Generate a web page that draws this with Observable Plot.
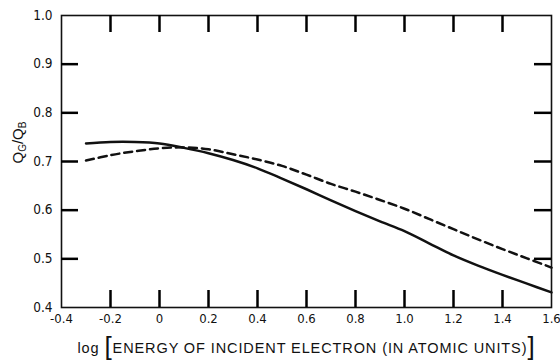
<!DOCTYPE html>
<html><head><meta charset="utf-8">
<script src="https://cdn.jsdelivr.net/npm/d3@7"></script>
<script src="https://cdn.jsdelivr.net/npm/@observablehq/plot@0.6"></script>
<style>body{margin:0;background:#fff;}</style>
</head><body><div id="chart"></div>
<script>
const energyLog   = [-0.3,-0.2,-0.1,0.0,0.1,0.2,0.3,0.4,0.5,0.6,0.7,0.8,0.9,1.0,1.1,1.2,1.3,1.4,1.5,1.6];
const ratioSolid  = [0.737,0.740,0.740,0.737,0.728,0.717,0.703,0.686,0.665,0.643,0.620,0.598,0.577,0.557,0.532,0.507,0.486,0.467,0.449,0.431];
const ratioDashed = [0.702,0.713,0.721,0.727,0.729,0.725,0.715,0.704,0.691,0.673,0.654,0.638,0.621,0.603,0.582,0.561,0.540,0.520,0.501,0.482];
const xTicks = [-0.4,-0.2,0,0.2,0.4,0.6,0.8,1.0,1.2,1.4,1.6];
const xTickLabels = ["-0.4","-0.2","0","0.2","0.4","0.6","0.8","1.0","1.2","1.4","1.6"];
const yTicks = [0.4,0.5,0.6,0.7,0.8,0.9,1.0];
const yTickLabels = ["0.4","0.5","0.6","0.7","0.8","0.9","1.0"];
const xTitle = "log [ENERGY OF INCIDENT ELECTRON (IN ATOMIC UNITS)]";
const yTitle = "QG/QB";

const W = 560, H = 364, mL = 61, mR = 9, mT = 15, mB = 57, TICK = 17;
const frameW = W - mL - mR, frameH = H - mT - mB;

const solid = energyLog.map((x, i) => ({x, y: ratioSolid[i]}));
const dashed = energyLog.map((x, i) => ({x, y: ratioDashed[i]}));
const innerX = xTicks.slice(1, -1);
const innerY = yTicks.slice(1, -1);
const tk = {stroke: "#000", strokeWidth: 2.5, strokeOpacity: 1};
const labelFont = "'Liberation Sans Narrow', 'DejaVu Sans Condensed', sans-serif";
const titleFont = "'Liberation Sans', Arial, sans-serif";

const chart = Plot.plot({
  width: W, height: H,
  marginLeft: mL, marginRight: mR, marginTop: mT, marginBottom: mB,
  style: {fontFamily: labelFont, fontSize: "13.5px", color: "#111", background: "#fff"},
  x: {domain: [-0.4, 1.6]},
  y: {domain: [0.4, 1.0]},
  marks: [
    Plot.frame({stroke: "#111", strokeWidth: 1.6}),
    Plot.tickX(innerX, {...tk, x: d => d, insetTop: frameH - TICK}),
    Plot.tickX(innerX, {...tk, x: d => d, insetBottom: frameH - TICK}),
    Plot.tickY(innerY, {...tk, y: d => d, insetRight: frameW - TICK}),
    Plot.tickY(innerY, {...tk, y: d => d, insetLeft: frameW - TICK}),
    Plot.axisX({ticks: xTicks, tickFormat: d => xTickLabels[xTicks.indexOf(d)], tickSize: 0, tickPadding: 6, label: null, fontFamily: labelFont, fontSize: 13}),
    Plot.axisY({ticks: yTicks, tickFormat: d => yTickLabels[yTicks.indexOf(d)], tickSize: 0, tickPadding: 9, label: null, fontFamily: labelFont}),
    Plot.line(dashed, {x: "x", y: "y", curve: "catmull-rom", stroke: "#111", strokeWidth: 2.5, strokeDasharray: "8,5"}),
    Plot.line(solid, {x: "x", y: "y", curve: "catmull-rom", stroke: "#111", strokeWidth: 2.5}),
    Plot.text([xTitle], {text: d => d, frameAnchor: "bottom", dy: 45, fontSize: 14.5, fontFamily: titleFont, fill: "#111"}),
    Plot.text([yTitle], {text: d => d, frameAnchor: "left", dx: -43, dy: 2, rotate: -90, fontSize: 15, fontFamily: titleFont, fill: "#111"})
  ]
});
document.getElementById("chart").appendChild(chart);

// rich formatting of the titles (big brackets, subscripts)
const textGroups = chart.querySelectorAll('g[aria-label="text"]');
const xt = d3.select(textGroups[0]).select("text");
xt.text(null).style("letter-spacing", "0.9px");
xt.append("tspan").text("log ");
xt.append("tspan").style("font-size", "26px").style("font-weight", "300").attr("dy", 2).text("[");
xt.append("tspan").attr("dy", -2).text("ENERGY OF INCIDENT ELECTRON (IN ATOMIC UNITS)");
xt.append("tspan").style("font-size", "26px").style("font-weight", "300").attr("dy", 2).text("]");
const yt = d3.select(textGroups[1]).select("text");
yt.text(null);
yt.append("tspan").text("Q");
yt.append("tspan").style("font-size", "10px").attr("dy", 3).text("G");
yt.append("tspan").attr("dy", -3).text("/Q");
yt.append("tspan").style("font-size", "10px").attr("dy", 3).text("B");
</script>
</body></html>
